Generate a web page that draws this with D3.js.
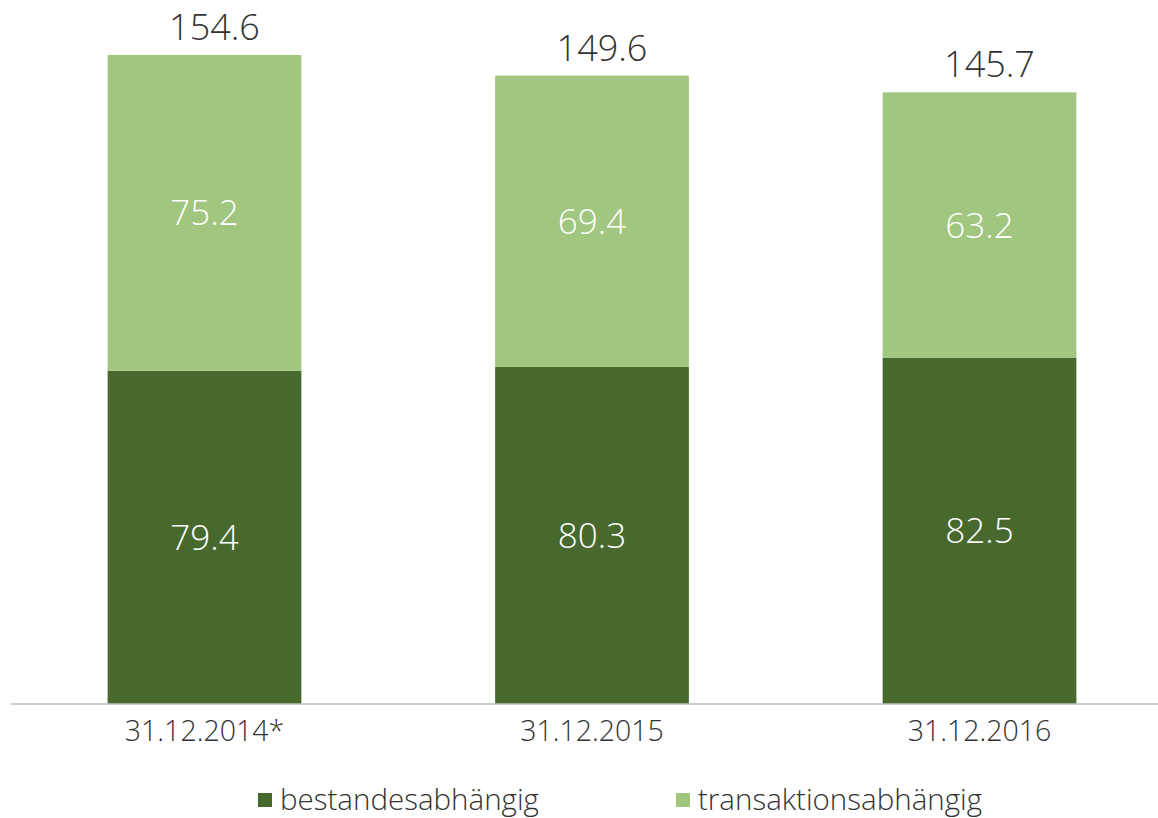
<!DOCTYPE html>
<html><head><meta charset="utf-8">
<script src="https://cdn.jsdelivr.net/npm/d3@7"></script>
<style>body{margin:0;background:#fff}svg{display:block}text{font-family:"Open Sans",sans-serif;font-weight:350}</style>
</head><body><svg id="c" width="1158" height="818"></svg>
<script>
const categories = ["31.12.2014*", "31.12.2015", "31.12.2016"];
const bestandesabhaengig = [79.4, 80.3, 82.5];
const transaktionsabhaengig = [75.2, 69.4, 63.2];
const totals = [154.6, 149.6, 145.7];
const seriesNames = ["bestandesabhängig", "transaktionsabhängig"];
const colors = ["#48692d", "#a0c67f"];

const svg = d3.select("#c");
const x = d3.scaleBand().domain(categories).range([10.75, 1173.25]).paddingInner(0.5).paddingOuter(0.25);
const y = d3.scaleLinear().domain([0, 154.6]).range([704, 55]);

const rows = categories.map((c, i) => ({cat: c, b: bestandesabhaengig[i], t: transaktionsabhaengig[i], total: totals[i]}));

svg.selectAll("rect.b").data(rows).join("rect").attr("class","b")
  .attr("x", d => x(d.cat)).attr("width", x.bandwidth())
  .attr("y", d => y(d.b)).attr("height", d => y(0) - y(d.b)).attr("fill", colors[0]);
svg.selectAll("rect.t").data(rows).join("rect").attr("class","t")
  .attr("x", d => x(d.cat)).attr("width", x.bandwidth())
  .attr("y", d => y(d.b + d.t)).attr("height", d => y(d.b) - y(d.b + d.t)).attr("fill", colors[1]);

svg.append("line").attr("x1", 11).attr("x2", 1158).attr("y1", y(0)).attr("y2", y(0))
  .attr("stroke", "#bdbdbd").attr("stroke-width", 1.5);

const fmt = d3.format(".1f");
svg.selectAll("text.lb").data(rows).join("text").attr("class","lb")
  .attr("x", d => x(d.cat) + x.bandwidth()/2).attr("y", d => (y(0) + y(d.b))/2)
  .attr("dy", "0.36em").attr("text-anchor","middle").attr("fill","#fff").attr("font-size", 35)
  .text(d => fmt(d.b));
svg.selectAll("text.lt").data(rows).join("text").attr("class","lt")
  .attr("x", d => x(d.cat) + x.bandwidth()/2).attr("y", d => (y(d.b) + y(d.b + d.t))/2)
  .attr("dy", "0.36em").attr("text-anchor","middle").attr("fill","#fff").attr("font-size", 35)
  .text(d => fmt(d.t));
svg.selectAll("text.tot").data(rows).join("text").attr("class","tot")
  .attr("x", d => x(d.cat) + x.bandwidth()/2 + 10).attr("y", d => y(d.total) - 15)
  .attr("text-anchor","middle").attr("fill","#333").attr("font-size", 36)
  .text(d => fmt(d.total));
svg.selectAll("text.cat").data(rows).join("text").attr("class","cat")
  .attr("x", d => x(d.cat) + x.bandwidth()/2).attr("y", 741)
  .attr("text-anchor","middle").attr("fill","#333").attr("font-size", 28.5)
  .text(d => d.cat);

const legX = [258, 676];
seriesNames.forEach((n, i) => {
  svg.append("rect").attr("x", legX[i]).attr("y", 793).attr("width", 14).attr("height", 14).attr("fill", colors[i]);
  svg.append("text").attr("x", legX[i] + 22).attr("y", 810).attr("fill","#333").attr("font-size", 29.5).text(n);
});
</script></body></html>
